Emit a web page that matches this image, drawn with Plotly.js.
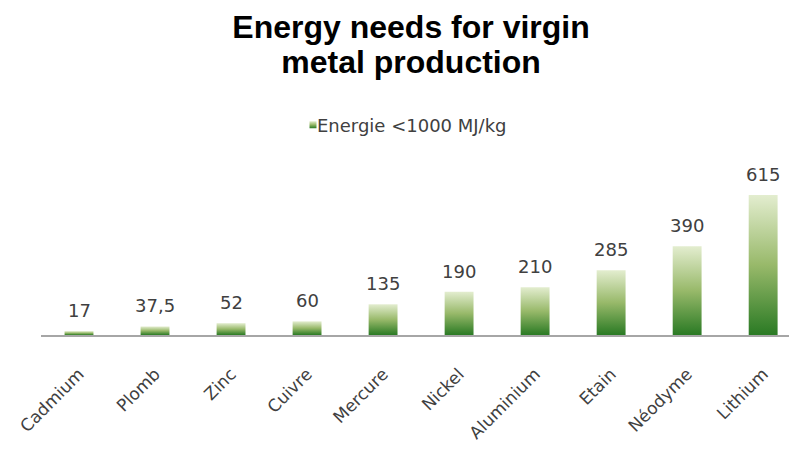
<!DOCTYPE html>
<html>
<head>
<meta charset="utf-8">
<script src="https://cdn.plot.ly/plotly-3.0.1.min.js"></script>
<style>
  html, body { margin: 0; padding: 0; background: #fff; }
  #chart { width: 789px; height: 452px; }
</style>
</head>
<body>
<div id="chart"></div>
<script>
// Energy needed to produce one kg of virgin metal (MJ/kg)
const metals = ['Cadmium', 'Plomb', 'Zinc', 'Cuivre', 'Mercure', 'Nickel', 'Aluminium', 'Etain', 'Néodyme', 'Lithium'];
const energy = [17, 37.5, 52, 60, 135, 190, 210, 285, 390, 615];
const seriesName = 'Energie <1000 MJ/kg';

// value labels use a decimal comma
const valueLabels = energy.map(v => String(v).replace('.', ','));

const textFamily = 'DejaVu Sans, sans-serif';
const labelFont = { family: textFamily, size: 18, color: '#404040' };

const trace = {
  type: 'bar',
  name: seriesName,
  x: metals,
  y: energy,
  marker: { color: '#7aa653', line: { width: 0 } },
  showlegend: true,
  hoverinfo: 'x+y'
};

const annotations = metals.map((m, i) => ({
  x: m,
  y: energy[i],
  xref: 'x',
  yref: 'y',
  text: valueLabels[i],
  showarrow: false,
  yanchor: 'bottom',
  yshift: 8,
  font: labelFont
}));

const layout = {
  width: 789,
  height: 452,
  margin: { l: 41, r: 0, t: 153, b: 117, pad: 0 },
  paper_bgcolor: '#ffffff',
  plot_bgcolor: '#ffffff',
  title: {
    text: '<b>Energy needs for virgin<br>metal production</b>',
    font: { family: 'Liberation Sans, Arial, sans-serif', size: 32, color: '#000000' },
    x: 0.521,
    xanchor: 'center',
    xref: 'container',
    y: 0.916,
    yanchor: 'top',
    yref: 'container'
  },
  showlegend: true,
  legend: {
    orientation: 'h',
    x: 277 / 789,
    xanchor: 'left',
    xref: 'container',
    y: 0.7235,
    yanchor: 'middle',
    yref: 'container',
    font: { family: textFamily, size: 18, color: '#404040' },
    itemwidth: 30,
    bgcolor: 'rgba(0,0,0,0)'
  },
  bargap: 0.62,
  xaxis: {
    type: 'category',
    range: [-0.5, 9.34],
    showline: true,
    linecolor: '#a6a6a6',
    linewidth: 1.5,
    showgrid: false,
    zeroline: false,
    ticks: 'outside',
    ticklen: 21,
    tickcolor: 'rgba(0,0,0,0)',
    tickangle: -45,
    tickfont: { family: textFamily, size: 17, color: '#404040' },
    fixedrange: true
  },
  yaxis: {
    range: [0, 800],
    showgrid: false,
    zeroline: false,
    showticklabels: false,
    ticks: '',
    fixedrange: true
  },
  annotations: annotations
};

const gd = document.getElementById('chart');
Plotly.newPlot(gd, [trace], layout, { displayModeBar: false, staticPlot: true }).then(() => {
  // vertical light-to-dark green fill for each bar and the legend swatch
  const svg = gd.querySelector('svg.main-svg');
  const ns = 'http://www.w3.org/2000/svg';
  let defs = svg.querySelector('defs');
  if (!defs) { defs = document.createElementNS(ns, 'defs'); svg.insertBefore(defs, svg.firstChild); }
  const grad = document.createElementNS(ns, 'linearGradient');
  grad.setAttribute('id', 'barFill');
  grad.setAttribute('x1', '0'); grad.setAttribute('y1', '0');
  grad.setAttribute('x2', '0'); grad.setAttribute('y2', '1');
  [['0%', '#e3edcf'], ['50%', '#98b96a'], ['100%', '#2a7a24']].forEach(([off, col]) => {
    const s = document.createElementNS(ns, 'stop');
    s.setAttribute('offset', off);
    s.setAttribute('stop-color', col);
    grad.appendChild(s);
  });
  defs.appendChild(grad);
  gd.querySelectorAll('.bars .point path').forEach(p => {
    p.style.fill = 'url(#barFill)';
  });
  // small swatch sitting right next to the legend text
  gd.querySelectorAll('.legendpoints').forEach(g => g.setAttribute('transform', 'translate(16,0)'));
  gd.querySelectorAll('.legendpoints path').forEach(p => {
    p.setAttribute('d', 'M3.5,3.5H-3.5V-3.5H3.5Z');
    p.style.fill = 'url(#barFill)';
  });
  // tighter spacing between the two title lines
  gd.querySelectorAll('.gtitle tspan.line').forEach((t, i) => {
    if (i > 0) t.setAttribute('dy', '1.1em');
  });
});
</script>
</body>
</html>
